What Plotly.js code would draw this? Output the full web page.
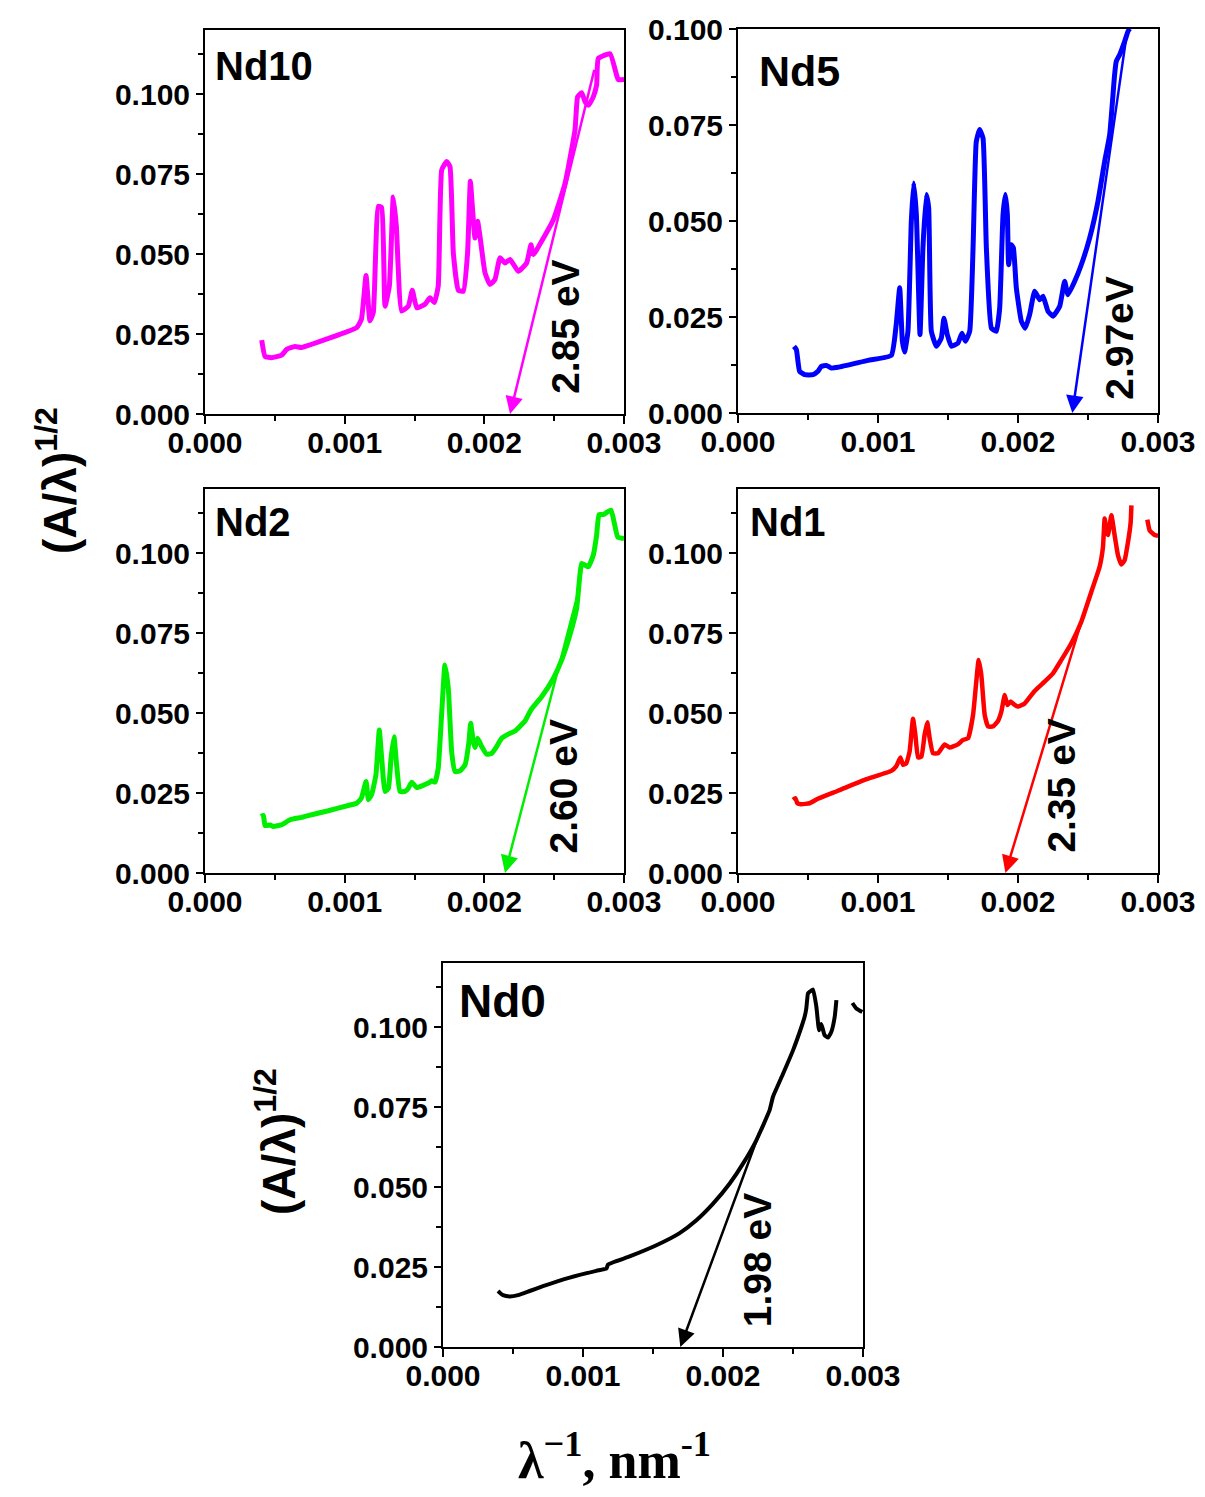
<!DOCTYPE html>
<html>
<head>
<meta charset="utf-8">
<script src="https://cdn.plot.ly/plotly-3.0.1.min.js"></script>
<style>html,body{margin:0;padding:0;background:#fff;}#chart{width:1205px;height:1497px;}</style>
</head>
<body>
<div id="chart"></div>
<script>
// ---------- DATA ----------
const nd10X = [0.000406,0.000430,0.000477,0.000549,0.000585,0.000644,0.000692,0.000883,0.001086,0.001120,0.001153,0.001181,0.001205,0.001241,0.001265,0.001289,0.001320,0.001348,0.001370,0.001408,0.001456,0.001484,0.001516,0.001575,0.001611,0.001642,0.001670,0.001695,0.001730,0.001754,0.001778,0.001814,0.001850,0.001880,0.001900,0.001921,0.001933,0.001952,0.001969,0.002005,0.002040,0.002076,0.002112,0.002148,0.002184,0.002243,0.002303,0.002334,0.002351,0.002410,0.002494,0.002578,0.002649,0.002668,0.002697,0.002721,0.002745,0.002780,0.002804,0.002816,0.002900,0.002947,0.002959,0.003000];
const nd10Y = [0.0231,0.0180,0.0176,0.0184,0.0202,0.0211,0.0208,0.0236,0.0270,0.0296,0.0433,0.0291,0.0317,0.0649,0.0645,0.0337,0.0400,0.0678,0.0587,0.0322,0.0337,0.0387,0.0332,0.0343,0.0363,0.0348,0.0400,0.0763,0.0789,0.0773,0.0503,0.0387,0.0384,0.0503,0.0727,0.0607,0.0550,0.0602,0.0555,0.0441,0.0405,0.0420,0.0488,0.0472,0.0483,0.0446,0.0472,0.0529,0.0498,0.0540,0.0607,0.0721,0.0887,0.0991,0.1004,0.0976,0.0965,0.0991,0.1028,0.1111,0.1126,0.1059,0.1045,0.1045];

const nd5X = [0.000400,0.000417,0.000440,0.000476,0.000536,0.000571,0.000595,0.000631,0.000667,0.000714,0.000929,0.001095,0.001130,0.001155,0.001174,0.001190,0.001214,0.001238,0.001255,0.001274,0.001300,0.001321,0.001345,0.001362,0.001381,0.001417,0.001452,0.001471,0.001495,0.001524,0.001571,0.001600,0.001624,0.001655,0.001679,0.001702,0.001726,0.001750,0.001774,0.001810,0.001845,0.001869,0.001893,0.001910,0.001924,0.001933,0.001952,0.001967,0.001988,0.002024,0.002052,0.002083,0.002119,0.002155,0.002179,0.002214,0.002250,0.002298,0.002333,0.002357,0.002405,0.002452,0.002512,0.002571,0.002619,0.002655,0.002690,0.002702,0.002726,0.002762,0.002786,0.002798];
const nd5Y = [0.01736,0.0165,0.01085,0.00998,0.00998,0.01085,0.01215,0.0124,0.0117,0.0119,0.0137,0.0150,0.0230,0.0326,0.0187,0.0159,0.0213,0.0499,0.0599,0.0516,0.0204,0.0430,0.0569,0.0534,0.0213,0.01736,0.0195,0.0247,0.0204,0.0174,0.0182,0.0208,0.0187,0.0213,0.0430,0.0707,0.0738,0.0716,0.0430,0.0221,0.0213,0.0273,0.0516,0.0569,0.0516,0.0386,0.0438,0.0430,0.0326,0.0239,0.0221,0.0256,0.0317,0.0295,0.0304,0.0265,0.0252,0.0278,0.0343,0.0308,0.0343,0.0386,0.0456,0.0551,0.0655,0.0725,0.0881,0.0916,0.0933,0.0968,0.0994,0.1001];

const nd2X = [0.000401,0.000418,0.000430,0.000466,0.000489,0.000549,0.000609,0.000692,0.000716,0.000883,0.001026,0.001086,0.001120,0.001153,0.001170,0.001193,0.001224,0.001248,0.001265,0.001289,0.001313,0.001332,0.001353,0.001372,0.001396,0.001432,0.001456,0.001480,0.001516,0.001599,0.001623,0.001647,0.001670,0.001694,0.001718,0.001742,0.001766,0.001790,0.001826,0.001862,0.001890,0.001902,0.001921,0.001933,0.001952,0.001981,0.002017,0.002053,0.002088,0.002124,0.002172,0.002220,0.002291,0.002334,0.002410,0.002494,0.002554,0.002613,0.002661,0.002697,0.002721,0.002745,0.002780,0.002804,0.002821,0.002852,0.002907,0.002955,0.003000];
const nd2Y = [0.01768,0.0180,0.01487,0.0150,0.01456,0.01508,0.01664,0.01737,0.0177,0.01945,0.0211,0.0218,0.0234,0.0286,0.0229,0.0245,0.0307,0.0447,0.0359,0.0255,0.0265,0.0359,0.0426,0.0338,0.0255,0.0255,0.0265,0.0284,0.0267,0.0281,0.0288,0.0284,0.0328,0.0494,0.0650,0.0577,0.0380,0.0317,0.0319,0.0338,0.0411,0.0468,0.0411,0.0392,0.0421,0.0395,0.0371,0.0374,0.0395,0.0421,0.0434,0.0444,0.0475,0.0510,0.0551,0.0608,0.0666,0.0744,0.0827,0.0967,0.0962,0.0957,0.0993,0.1056,0.1120,0.1120,0.1134,0.1050,0.1045];

const nd1X = [0.000393,0.000410,0.000424,0.000452,0.000512,0.000571,0.000714,0.000905,0.001095,0.001130,0.001160,0.001179,0.001202,0.001226,0.001250,0.001267,0.001286,0.001310,0.001333,0.001352,0.001369,0.001393,0.001429,0.001476,0.001512,0.001571,0.001607,0.001643,0.001679,0.001702,0.001719,0.001738,0.001762,0.001786,0.001821,0.001857,0.001881,0.001905,0.001924,0.001948,0.001971,0.002000,0.002048,0.002119,0.002190,0.002250,0.002310,0.002381,0.002452,0.002524,0.002583,0.002607,0.002619,0.002631,0.002643,0.002667,0.002690,0.002714,0.002738,0.002762,0.002786,0.002805,0.002810,null,0.002924,0.002940,0.002976,0.003000];
const nd1Y = [0.0229,0.0234,0.0218,0.0215,0.0218,0.0232,0.0257,0.0291,0.0319,0.0333,0.0361,0.0338,0.0343,0.0380,0.0482,0.0432,0.0361,0.0364,0.0432,0.0471,0.0421,0.0374,0.0374,0.0402,0.0392,0.0402,0.0416,0.0421,0.0494,0.0598,0.0666,0.0619,0.0494,0.0458,0.0458,0.0475,0.0504,0.0556,0.0525,0.0536,0.0527,0.0520,0.0530,0.0569,0.0598,0.0624,0.0666,0.0718,0.0785,0.0879,0.0957,0.1019,0.1108,0.1071,0.1056,0.1118,0.1056,0.0993,0.0964,0.0978,0.1035,0.1097,0.1149,null,0.1104,0.1071,0.1056,0.1054];

const nd0X = [0.000393,0.000410,0.000429,0.000476,0.000536,0.000619,0.000714,0.000905,0.001095,0.001167,0.001179,0.001333,0.001524,0.001690,0.001810,0.001929,0.002048,0.002143,0.002238,0.002333,0.002357,0.002429,0.002500,0.002560,0.002583,0.002595,0.002607,0.002619,0.002643,0.002667,0.002686,0.002702,0.002726,0.002750,0.002774,0.002798,0.002810,null,0.002924,0.002952,0.002995];
const nd0Y = [0.0175,0.0168,0.0162,0.0158,0.0162,0.0175,0.0190,0.0217,0.0238,0.0245,0.0258,0.0283,0.0318,0.0356,0.0396,0.0448,0.0511,0.0573,0.0646,0.0740,0.0782,0.0854,0.0927,0.1000,0.1032,0.1058,0.1105,0.1110,0.1117,0.1063,0.0990,0.1009,0.0974,0.0967,0.0985,0.1032,0.1084,null,0.1075,0.1058,0.1047];

const panelNames = ["Nd10","Nd5","Nd2","Nd1","Nd0"];
const panelColors = ["#ff00ff","#0000ff","#00ee00","#ff0000","#000000"];
const gapLabels = ["2.85 eV","2.97eV","2.60 eV","2.35 eV","1.98 eV"];
// tangent arrows: tail and head points
const tangentTail = [[0.00279,0.108],[0.00278,0.0995],[0.002673,0.0879],[0.002488,0.0837],[0.002262,0.0672]];
const tangentHead = [[0.002184,0],[0.002388,0],[0.002148,0],[0.00191,0],[0.001695,0]];
const gapLabelPos = [[0.002584,0.0272],[0.002729,0.0196],[0.00257,0.0270],[0.002314,0.0273],[0.002243,0.0271]];
const xTickVals = [0.000,0.001,0.002,0.003];
const yTickVals = [0.000,0.025,0.050,0.075,0.100];
const yTitle = "(A/λ)<sup>1/2</sup>";
const xTitle = "λ<sup>−1</sup>, nm<sup>-1</sup>";

// ---------- LAYOUT ----------
const W = 1205, H = 1497;
// plot-area boxes in pixels [left, right, top, bottom]
const boxes = [[205,624,30,414],[738,1158,29,413],[205,624,489,873],[738,1158,489,873],[443,863,963,1347]];
const yMax = [0.12,0.10,0.12,0.12,0.12];
const labelPos = [[0.019,0.906,40],[0.045,0.89,43],[0.019,0.914,40],[0.024,0.914,40],[0.033,0.901,46]];
const lineW = [5,5,5,4.5,4];

const SANS = "Liberation Sans, Arial, sans-serif";
const datasets = [[nd10X,nd10Y],[nd5X,nd5Y],[nd2X,nd2Y],[nd1X,nd1Y],[nd0X,nd0Y]];
const traces = [];
const layout = {
  width: W, height: H,
  margin: {l:0,r:0,t:0,b:0},
  paper_bgcolor: "#fff", plot_bgcolor: "#fff",
  showlegend: false,
  annotations: []
};

datasets.forEach((d,i)=>{
  const n = i===0 ? "" : String(i+1);
  traces.push({
    x: d[0], y: d[1], type: "scatter", mode: "lines",
    xaxis: "x"+n, yaxis: "y"+n,
    line: {color: panelColors[i], width: lineW[i], shape: "spline", smoothing: 0.4},
    connectgaps: false, hoverinfo: "skip"
  });
  const b = boxes[i];
  const tickfont = {family: SANS, size: 30, color: "#000", weight: "bold"};
  layout["xaxis"+n] = {
    domain: [b[0]/W, b[1]/W], anchor: "y"+n,
    range: [0,0.003], tickvals: xTickVals, tickformat: ".3f",
    showgrid: false, zeroline: false,
    showline: true, mirror: true, linecolor: "#000", linewidth: 2,
    ticks: "outside", ticklen: 8, tickwidth: 2, tickcolor: "#000",
    ticklabelstandoff: -7,
    minor: {ticks: "outside", ticklen: 5, tickwidth: 2, tickcolor: "#000", dtick: 0.0005, showgrid: false},
    tickfont: tickfont, fixedrange: true
  };
  layout["yaxis"+n] = {
    domain: [1-b[3]/H, 1-b[2]/H], anchor: "x"+n,
    range: [0,yMax[i]], tickvals: yTickVals, tickformat: ".3f",
    showgrid: false, zeroline: false,
    showline: true, mirror: true, linecolor: "#000", linewidth: 2,
    ticks: "outside", ticklen: 7, tickwidth: 2, tickcolor: "#000",
    minor: {ticks: "outside", ticklen: 5, tickwidth: 2, tickcolor: "#000", dtick: 0.0125, showgrid: false},
    tickfont: tickfont, fixedrange: true
  };
  // panel label
  layout.annotations.push({
    xref: "x"+n+" domain", yref: "y"+n+" domain",
    x: labelPos[i][0], y: labelPos[i][1], xanchor: "left", yanchor: "middle",
    text: "<b>"+panelNames[i]+"</b>", showarrow: false,
    font: {family: SANS, size: labelPos[i][2], color: "#000"}
  });
  // tangent arrow
  layout.annotations.push({
    xref: "x"+n, yref: "y"+n, axref: "x"+n, ayref: "y"+n,
    x: tangentHead[i][0], y: tangentHead[i][1],
    ax: tangentTail[i][0], ay: tangentTail[i][1],
    text: "", showarrow: true, arrowhead: 2, arrowsize: 1.4, arrowwidth: 2.5,
    arrowcolor: panelColors[i], standoff: 0
  });
  // band gap label
  layout.annotations.push({
    xref: "x"+n, yref: "y"+n,
    x: gapLabelPos[i][0], y: gapLabelPos[i][1], xanchor: "center", yanchor: "middle",
    text: "<b>"+gapLabels[i]+"</b>", showarrow: false, textangle: -90,
    font: {family: SANS, size: 39, color: "#000"}
  });
});

// axis titles
layout.annotations.push({
  xref: "paper", yref: "paper", x: 57/W, y: 1-481/H, xanchor: "center", yanchor: "middle",
  text: "<b>"+yTitle+"</b>", textangle: -90, showarrow: false,
  font: {family: SANS, size: 46, color: "#000"}
});
layout.annotations.push({
  xref: "paper", yref: "paper", x: 276/W, y: 1-1142/H, xanchor: "center", yanchor: "middle",
  text: "<b>"+yTitle+"</b>", textangle: -90, showarrow: false,
  font: {family: SANS, size: 46, color: "#000"}
});
layout.annotations.push({
  xref: "paper", yref: "paper", x: 614/W, y: 1-1456/H, xanchor: "center", yanchor: "middle",
  text: "<b>"+xTitle+"</b>", showarrow: false,
  font: {family: "Liberation Serif, Times New Roman, serif", size: 52, color: "#000"}
});

Plotly.newPlot("chart", traces, layout, {staticPlot: true, displayModeBar: false});
</script>
</body>
</html>
